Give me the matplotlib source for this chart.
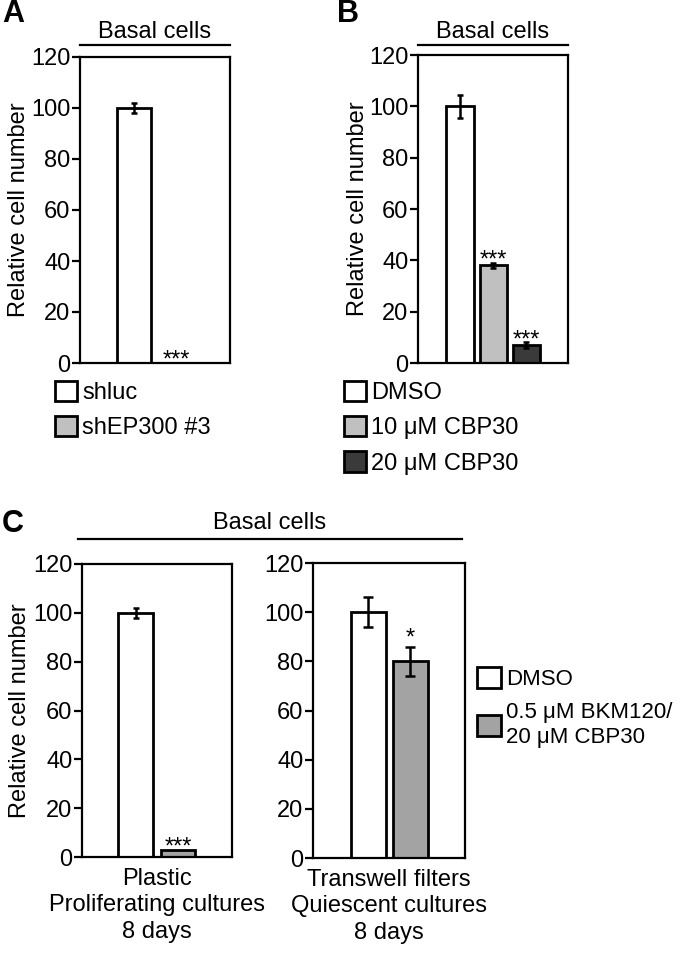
import matplotlib
matplotlib.use('Agg')
import matplotlib.pyplot as plt
from matplotlib.lines import Line2D
from matplotlib.patches import Patch

plt.rcParams['font.family'] = ['Liberation Sans', 'DejaVu Sans']
plt.rcParams['font.size'] = 17
plt.rcParams['axes.linewidth'] = 1.6

# ----- data -----
a_labels = ['shluc', 'shEP300 #3']
a_values = [100, 0]
a_errors = [2, 0]
a_colors = ['white', '#c0c0c0']
a_stars = ['', '***']

b_labels = ['DMSO', '10 \u03bcM CBP30', '20 \u03bcM CBP30']
b_values = [100, 38, 7]
b_errors = [4.5, 1, 1]
b_colors = ['white', '#c0c0c0', '#3a3a3a']
b_stars = ['', '***', '***']

c_labels = ['DMSO', '0.5 \u03bcM BKM120/\n20 \u03bcM CBP30']
c_colors = ['white', '#a3a3a3']
c_plastic = [100, 3]
c_plastic_err = [2, 0]
c_plastic_stars = ['', '***']
c_transwell = [100, 80]
c_transwell_err = [6, 6]
c_transwell_stars = ['', '*']
c_xlabels = ['Plastic\nProliferating cultures\n8 days',
             'Transwell filters\nQuiescent cultures\n8 days']

yticks = [0, 20, 40, 60, 80, 100, 120]

W, H = 680, 963
fig = plt.figure(figsize=(W / 100, H / 100), dpi=100)


def px_axes(l, t, r, b):
    return fig.add_axes([l / W, 1 - b / H, (r - l) / W, (b - t) / H])


def bar_panel(ax, values, errors, colors, stars, xlim, width,
              capsize=2.5, star_pad=1.5):
    x = list(range(len(values)))
    ax.bar(x, values, width=width, color=colors, edgecolor='black',
           linewidth=2, zorder=2)
    for xi, v, e in zip(x, values, errors):
        if e > 0:
            ax.errorbar(xi, v, yerr=e, color='black', elinewidth=1.8,
                        capsize=capsize, capthick=1.8, zorder=3)
    for xi, v, e, s in zip(x, values, errors, stars):
        if s:
            ax.annotate(s, (xi, v + e), xytext=(0, star_pad),
                        textcoords='offset points', ha='center',
                        va='center', fontsize=17, zorder=4)
    ax.set_xlim(*xlim)
    ax.set_ylim(0, 120)
    ax.set_yticks(yticks)
    ax.set_xticks([])
    ax.tick_params(axis='y', direction='out', length=6, width=1.6, pad=1)


def overline(x0, x1, y, tx, ty):
    fig.add_artist(Line2D([x0 / W, x1 / W], [1 - y / H, 1 - y / H],
                          color='black', linewidth=1.6))
    fig.text(tx / W, 1 - ty / H, 'Basal cells', ha='center', va='center',
             fontsize=17)


def legend_at(labels, colors, x, y, spacing=0.5, box=0.95, size=17):
    handles = [Patch(facecolor=c, edgecolor='black', linewidth=2)
               for c in colors]
    fig.legend(handles, labels, loc='upper left',
               bbox_to_anchor=(x / W, 1 - y / H), frameon=False,
               handlelength=box, handleheight=box, handletextpad=0.2,
               labelspacing=spacing, borderpad=0, borderaxespad=0,
               fontsize=size)


# ----- panel A -----
axA = px_axes(80, 57, 230, 363)
bar_panel(axA, a_values, a_errors, a_colors, a_stars, (-1.29, 2.29), 0.8)
axA.set_ylabel('Relative cell number')
axA.yaxis.set_label_coords(-0.33, 0.5)
overline(80, 230, 45, 155, 32)
legend_at(a_labels, a_colors, 55, 381)
fig.text(2 / W, 1 - 14 / H, 'A', fontsize=22, fontweight='bold',
         ha='left', va='center')

# ----- panel B -----
axB = px_axes(418, 55, 568, 363)
bar_panel(axB, b_values, b_errors, b_colors, b_stars, (-1.27, 3.26), 0.82)
axB.set_ylabel('Relative cell number')
axB.yaxis.set_label_coords(-0.33, 0.5)
overline(418, 568, 45, 493, 32)
legend_at(b_labels, b_colors, 344, 381)
fig.text(337 / W, 1 - 14 / H, 'B', fontsize=22, fontweight='bold',
         ha='left', va='center')

# ----- panel C -----
axC1 = px_axes(82, 564, 232, 857)
bar_panel(axC1, c_plastic, c_plastic_err, c_colors, c_plastic_stars,
          (-1.26, 2.27), 0.82)
axC1.set_ylabel('Relative cell number')
axC1.yaxis.set_label_coords(-0.34, 0.5)
axC1.set_xlabel(c_xlabels[0], linespacing=1.25, labelpad=8)

axC2 = px_axes(313, 563, 465, 858)
bar_panel(axC2, c_transwell, c_transwell_err, c_colors, c_transwell_stars,
          (-1.32, 2.30), 0.83, capsize=3.3, star_pad=6)
axC2.set_xlabel(c_xlabels[1], linespacing=1.25, labelpad=8)

overline(78, 462, 539, 270, 523)
legend_at(c_labels, c_colors, 477, 667, spacing=0.55, box=1.1, size=16)
fig.text(2 / W, 1 - 524 / H, 'C', fontsize=22, fontweight='bold',
         ha='left', va='center')

fig.savefig('out.png', dpi=100)
